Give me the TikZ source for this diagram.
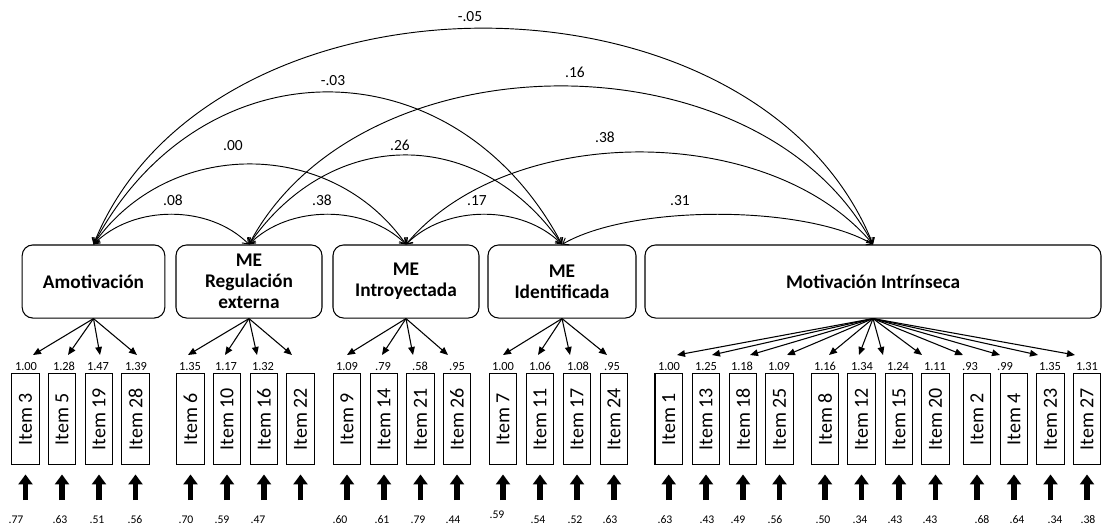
\documentclass[tikz,border=0pt]{standalone}
\usepackage{fontspec}
\setmainfont{Carlito}[Numbers=Lining]
\usetikzlibrary{arrows.meta,calc}

\begin{document}
\begin{tikzpicture}[x=0.75pt,y=-0.75pt,
  factor/.style={draw, line width=0.8pt, rounded corners=8pt, align=center,
    inner sep=0pt, minimum height=54.8pt, font=\bfseries\fontsize{14.5}{15.8}\selectfont},
  itembox/.style={draw, line width=0.9pt, minimum width=20.6pt, minimum height=68.8pt,
    inner sep=0pt, font=\fontsize{15}{18}\selectfont},
  corr/.style={line width=0.7pt,
    {Straight Barb[length=4pt,width=6pt]}-{Straight Barb[length=4pt,width=6pt]}},
  load/.style={line width=0.8pt, -{Triangle[length=6pt,width=5pt]}},
  resid/.style={line width=4.2pt, -{Triangle[length=7.5pt,width=10.5pt]}},
  cnum/.style={font=\fontsize{11.6}{13}\selectfont, inner sep=0pt,
    text height=7.6pt, text depth=0pt},
  lnum/.style={font=\fontsize{9.3}{11}\selectfont, inner sep=0pt,
    text height=6.1pt, text depth=0pt},
  errnum/.style={font=\fontsize{8.8}{10}\selectfont, inner sep=0pt,
    text height=5.8pt, text depth=0pt}]

\useasboundingbox (0,0) rectangle (1103,528);

% latent factors
\node[factor, minimum width=107pt] (am) at (93.5,281.5) {Amotivación};
\node[factor, minimum width=109.5pt] (rg) at (249,281.5) {ME\\Regulación\\externa};
\node[factor, minimum width=109.5pt] (in) at (406,281.5) {ME\\Introyectada};
\node[factor, minimum width=111pt] (id) at (562,281.5) {ME\\Identificada};
\node[factor, minimum width=342pt] (mi) at (873,281.5) {Motivación Intrínseca};

% correlations between factors
\draw[corr] (am.north) .. controls ($(am.north)+(40,-40)$) and ($(rg.north)+(-40,-40)$) .. (rg.north);
\draw[corr] (rg.north) .. controls ($(rg.north)+(40,-40)$) and ($(in.north)+(-40,-40)$) .. (in.north);
\draw[corr] (in.north) .. controls ($(in.north)+(40,-40)$) and ($(id.north)+(-40,-40)$) .. (id.north);
\draw[corr] (id.north) .. controls ($(id.north)+(69,-40)$) and ($(mi.north)+(-69,-40)$) .. (mi.north);
\draw[corr] (am.north) .. controls ($(am.north)+(75,-107)$) and ($(in.north)+(-75,-107)$) .. (in.north);
\draw[corr] (rg.north) .. controls ($(rg.north)+(83,-119)$) and ($(id.north)+(-83,-119)$) .. (id.north);
\draw[corr] (in.north) .. controls ($(in.north)+(103,-123)$) and ($(mi.north)+(-103,-123)$) .. (mi.north);
\draw[corr] (am.north) .. controls ($(am.north)+(108,-203)$) and ($(id.north)+(-108,-203)$) .. (id.north);
\draw[corr] (rg.north) .. controls ($(rg.north)+(112,-211)$) and ($(mi.north)+(-112,-211)$) .. (mi.north);
\draw[corr] (am.north) .. controls ($(am.north)+(116,-288)$) and ($(mi.north)+(-116,-288)$) .. (mi.north);

\node[cnum] (c1) at (173,200) {.08};
\node[cnum] (c2) at (322,200) {.38};
\node[cnum] (c3) at (477,200) {.17};
\node[cnum] (c4) at (680,200) {.31};
\node[cnum] (c5) at (233,145) {.00};
\node[cnum] (c6) at (400,145) {.26};
\node[cnum] (c7) at (605,137) {.38};
\node[cnum] (c8) at (333,80) {-.03};
\node[cnum] (c9) at (575,72) {.16};
\node[cnum] (c10) at (470,16) {-.05};

% observed items: number / centre x / arrow tip x / factor
\foreach \n/\xc/\tx/\fac in {
  3/25.5/33/am, 5/62/68/am, 19/99/100/am, 28/135.5/137/am,
  6/190.5/188/rg, 10/227/225/rg, 16/264/257/rg, 22/300.5/292/rg,
  9/347/347/in, 14/384/382/in, 21/420.5/413/in, 26/457/448/in,
  7/503/503/id, 11/540/538/id, 17/577/570/id, 24/614/607/id,
  1/668.7/677/mi, 13/706/712/mi, 18/743/750/mi, 25/779.5/787/mi,
  8/825/829/mi, 12/861.5/859/mi, 15/899/883/mi, 20/935.5/922/mi,
  2/977/963/mi, 4/1014/1000/mi, 23/1050.5/1038/mi, 27/1087/1075/mi}
{
  \node[itembox] (i\n) at (\xc,419) {\rotatebox{90}{Item \n}};
  \coordinate (t\n) at (\tx,355);
  \draw[load] (\fac.south) -- (t\n);
  \coordinate (r\n) at (\xc,500);
  \draw[resid] (r\n) -- ($(i\n.south)+(0,9)$);
}

% factor loadings
\foreach \n/\lx/\ld in {
  3/26/1.00, 5/64/1.28, 19/98/1.47, 28/136/1.39,
  6/190/1.35, 10/226/1.17, 16/263/1.32,
  9/347/1.09, 14/383/.79, 21/420/.58, 26/457/.95,
  7/503/1.00, 11/540/1.06, 17/578/1.08, 24/612/.95,
  1/669/1.00, 13/706/1.25, 18/742/1.18, 25/779/1.09,
  8/825/1.16, 12/862/1.34, 15/898/1.24, 20/935/1.11,
  2/970/.93, 4/1005/.99, 23/1050/1.35, 27/1087/1.31}
{
  \node[lnum] (l\n) at (\lx,366) {\ld};
}

% residual values
\foreach \n/\ex/\ey/\er in {
  3/16/520/.77, 5/60/520/.63, 19/97/520/.51, 28/135/520/.56,
  6/186/520/.70, 10/222/520/.59, 16/258/520/.47,
  9/340/520/.60, 14/382/520/.61, 21/418/520/.79, 26/453/520/.44,
  7/497/515/.59, 11/538/520/.54, 17/575/520/.52, 24/610/520/.63,
  1/665/520/.63, 13/707/520/.43, 18/738/520/.49, 25/775/520/.56,
  8/823/520/.50, 12/860/520/.34, 15/895/520/.43, 20/930/520/.43,
  2/982/520/.68, 4/1017/520/.64, 23/1055/520/.34, 27/1088/520/.38}
{
  \node[errnum] (e\n) at (\ex,\ey) {\er};
}

\end{tikzpicture}
\end{document}
